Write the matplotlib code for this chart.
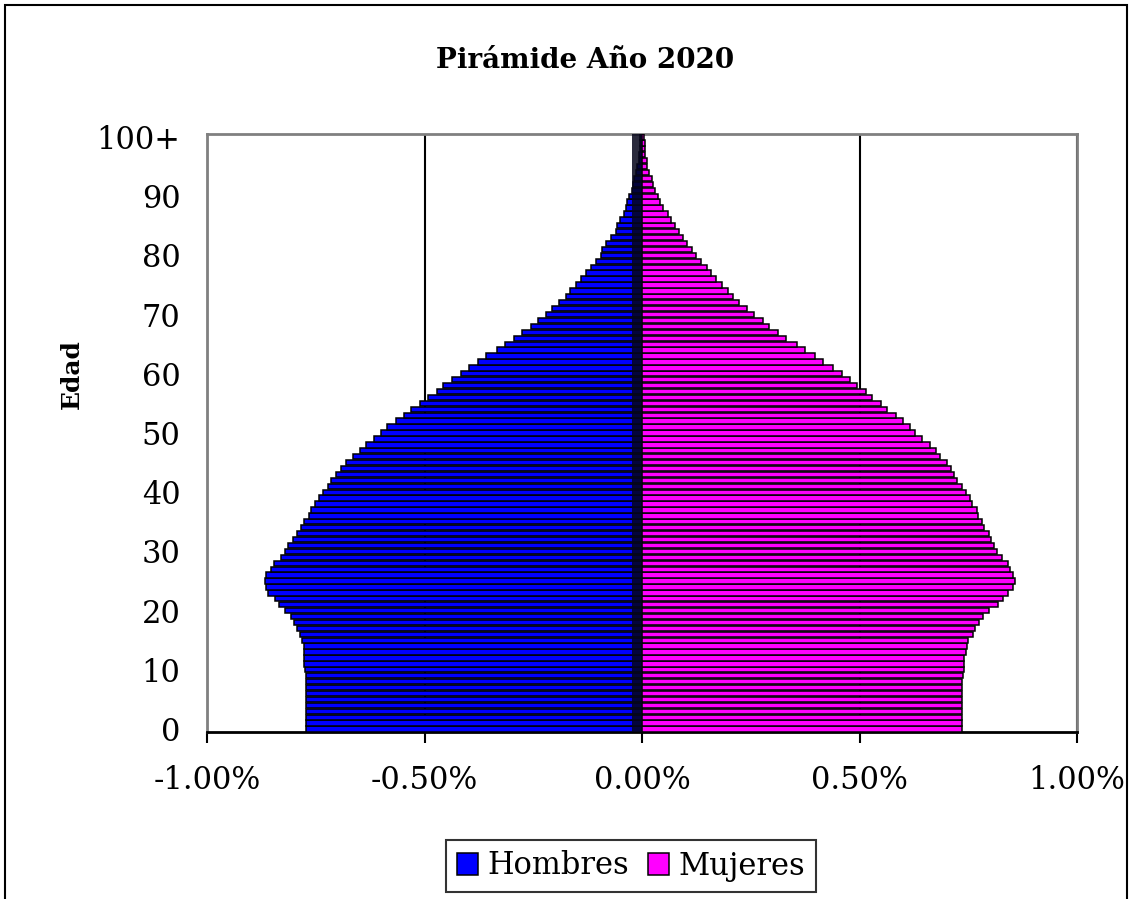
import matplotlib.pyplot as plt
from matplotlib.patches import Rectangle
from matplotlib.ticker import FuncFormatter

plt.rcParams['font.family'] = ['DejaVu Serif']

# Porcentaje de la población por edad simple (0 .. 100+), año 2020
edades = list(range(101))
etiquetas = ['0', '10', '20', '30', '40', '50', '60', '70', '80', '90', '100+']

hombres = [
    0.773, 0.773, 0.773, 0.773, 0.773, 0.773, 0.773, 0.773, 0.773, 0.773,  # 0-9
    0.775, 0.777, 0.777, 0.777, 0.778, 0.781, 0.787, 0.792, 0.800, 0.806,  # 10-19
    0.820, 0.835, 0.844, 0.859, 0.865, 0.866, 0.865, 0.854, 0.846, 0.831,  # 20-29
    0.820, 0.813, 0.802, 0.792, 0.783, 0.777, 0.765, 0.761, 0.752, 0.743,  # 30-39
    0.733, 0.722, 0.714, 0.703, 0.693, 0.680, 0.664, 0.649, 0.635, 0.615,  # 40-49
    0.599, 0.586, 0.565, 0.546, 0.532, 0.511, 0.492, 0.472, 0.458, 0.436,  # 50-59
    0.417, 0.398, 0.378, 0.359, 0.333, 0.314, 0.295, 0.275, 0.255, 0.240,  # 60-69
    0.221, 0.206, 0.190, 0.175, 0.166, 0.152, 0.141, 0.129, 0.118, 0.106,  # 70-79
    0.095, 0.091, 0.083, 0.072, 0.060, 0.057, 0.051, 0.041, 0.037, 0.034,  # 80-89
    0.030, 0.024, 0.020, 0.018, 0.014, 0.011, 0.008, 0.007, 0.005, 0.005,  # 90-99
    0.004,                                                                  # 100+
]

mujeres = [
    0.735, 0.735, 0.735, 0.735, 0.735, 0.735, 0.735, 0.735, 0.735, 0.737,  # 0-9
    0.740, 0.740, 0.740, 0.745, 0.746, 0.749, 0.760, 0.765, 0.775, 0.784,  # 10-19
    0.798, 0.819, 0.829, 0.842, 0.853, 0.857, 0.853, 0.847, 0.842, 0.828,  # 20-29
    0.817, 0.809, 0.802, 0.797, 0.787, 0.782, 0.773, 0.769, 0.758, 0.755,  # 30-39
    0.745, 0.735, 0.723, 0.718, 0.710, 0.700, 0.686, 0.677, 0.662, 0.643,  # 40-49
    0.628, 0.615, 0.599, 0.584, 0.563, 0.549, 0.528, 0.514, 0.494, 0.479,  # 50-59
    0.459, 0.440, 0.415, 0.397, 0.375, 0.356, 0.331, 0.312, 0.291, 0.278,  # 60-69
    0.258, 0.242, 0.222, 0.209, 0.198, 0.183, 0.169, 0.158, 0.150, 0.135,  # 70-79
    0.125, 0.114, 0.104, 0.095, 0.085, 0.075, 0.066, 0.060, 0.049, 0.041,  # 80-89
    0.037, 0.030, 0.025, 0.022, 0.016, 0.012, 0.012, 0.008, 0.007, 0.006,  # 90-99
    0.005,                                                                  # 100+
]

fig = plt.figure(figsize=(11.32, 8.99), dpi=100)
ax = fig.add_axes([207 / 1132, 1 - 732 / 899, 870 / 1132, 598 / 899])

ax.barh(edades, [-h for h in hombres], height=0.9, color='#0000FF',
        edgecolor='black', linewidth=1.1, label='Hombres', zorder=3)
ax.barh(edades, mujeres, height=0.9, color='#FF00FF',
        edgecolor='black', linewidth=1.1, label='Mujeres', zorder=3)
# banda oscura junto al eje central
ax.axvspan(-0.022, 0, color='#05051a', alpha=0.85, zorder=4, lw=0)

ax.set_xlim(-1.0, 1.0)
ax.set_ylim(-0.5, 100.5)
ax.set_xticks([-1.0, -0.5, 0.0, 0.5, 1.0])
ax.xaxis.set_major_formatter(FuncFormatter(lambda v, p: f'{v:.2f}%'))
ax.set_yticks(edades[::10])
ax.set_yticklabels(etiquetas)
ax.tick_params(axis='y', length=0, pad=19, labelsize=22)
ax.tick_params(axis='x', direction='out', length=8, width=1.5, pad=16,
               labelsize=22)

ax.grid(axis='x', color='black', linewidth=1.5, zorder=0)
for s in ['left', 'top', 'right']:
    ax.spines[s].set_color('#808080')
    ax.spines[s].set_linewidth(2)
ax.spines['bottom'].set_color('black')
ax.spines['bottom'].set_linewidth(2)

fig.text(585 / 1132, 1 - 60 / 899, 'Pirámide Año 2020', ha='center',
         va='center', fontsize=20, fontweight='bold')
fig.text(72 / 1132, 1 - 374 / 899, 'Edad', ha='center', va='center',
         rotation=90, fontsize=18, fontweight='bold')

leg = fig.legend(loc='center', bbox_to_anchor=(631 / 1132, 1 - 866 / 899),
                 ncol=2, fontsize=22, frameon=True, fancybox=False,
                 handlelength=0.7, handleheight=0.7, handletextpad=0.3,
                 columnspacing=0.6, borderpad=0.35)
leg.get_frame().set_edgecolor('black')
leg.get_frame().set_linewidth(1.5)

# marco exterior del gráfico
fig.patches.append(Rectangle((5 / 1132, -0.1), 1122 / 1132, 1.1 - 5 / 899,
                             transform=fig.transFigure, fill=False,
                             edgecolor='black', linewidth=1.5))

fig.savefig('out.png', dpi=100)
